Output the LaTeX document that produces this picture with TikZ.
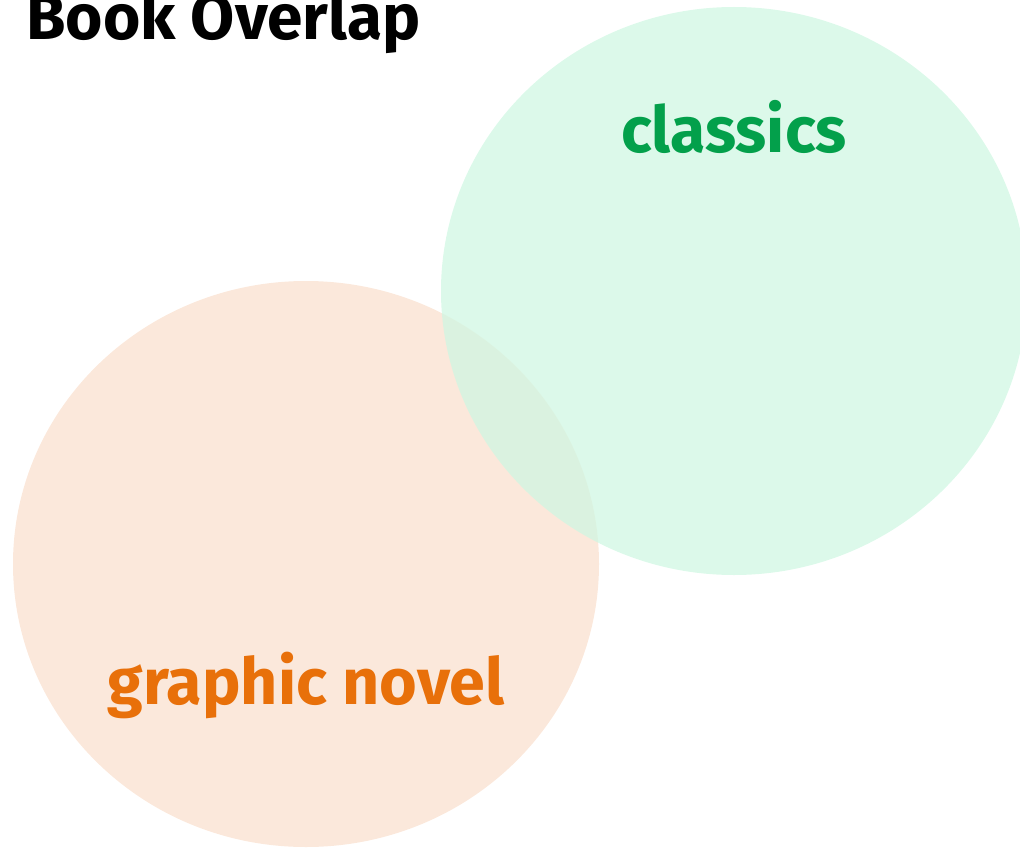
\documentclass[tikz,border=0pt]{standalone}
\usepackage{fontspec}
\setmainfont{Fira Sans}
\definecolor{greenfill}{HTML}{CFF7E2}
\definecolor{orangefill}{HTML}{FBE8DB}
\definecolor{greentext}{HTML}{03A04B}
\definecolor{orangetext}{HTML}{E8700A}
\begin{document}
\begin{tikzpicture}[x=1pt,y=-1pt,
  settext/.style={inner sep=0pt, anchor=base}]
\useasboundingbox (0,0) rectangle (1020,848);
\begin{scope}
\clip (0,0) rectangle (1020,848);
\fill[orangefill] (306,564) ellipse [x radius=293, y radius=283];
\fill[greenfill, opacity=0.73] (734,291) ellipse [x radius=293, y radius=284];
\node[settext, anchor=base west, font=\fontsize{64}{70}\selectfont\bfseries] (title) at (26,40) {Book Overlap};
\end{scope}
\node[settext, text=greentext, font=\fontsize{64.3}{70}\selectfont\bfseries] (classics) at (734,153) {classics};
\node[settext, text=orangetext, font=\fontsize{64.6}{70}\selectfont\bfseries] (graphic) at (306,704) {graphic novel};
\end{tikzpicture}
\end{document}
